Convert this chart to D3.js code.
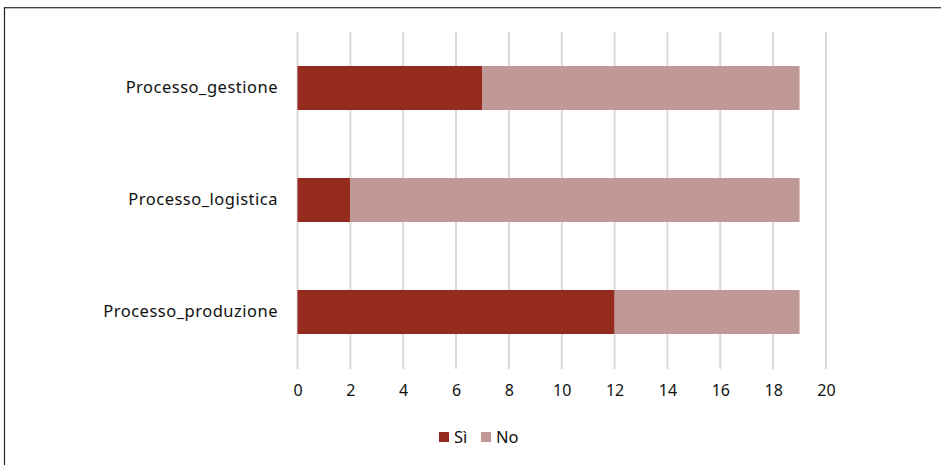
<!DOCTYPE html>
<html><head><meta charset="utf-8">
<script src="https://cdn.jsdelivr.net/npm/d3@7"></script>
<style>body{margin:0;background:#fff;font-family:"Noto Sans",sans-serif;}</style>
</head><body><svg id="c" width="941" height="465"></svg>
<script>
const categories = ["Processo_gestione", "Processo_logistica", "Processo_produzione"];
const si = [7, 2, 12];
const no = [12, 17, 7];
const xTicks = [0, 2, 4, 6, 8, 10, 12, 14, 16, 18, 20];
const seriesNames = ["Sì", "No"];
const colors = ["#952a1f", "#c09896"];

const svg = d3.select("#c");
// frame
svg.append("line").attr("x1", 4.5).attr("x2", 941).attr("y1", 7.5).attr("y2", 7.5).attr("stroke", "#444").attr("stroke-width", 1.2);
svg.append("line").attr("x1", 5).attr("x2", 941).attr("y1", 8.5).attr("y2", 8.5).attr("stroke", "#bbb").attr("stroke-width", 1);
svg.append("line").attr("x1", 4.5).attr("x2", 4.5).attr("y1", 7).attr("y2", 465).attr("stroke", "#222").attr("stroke-width", 1.2);

const x = d3.scaleLinear().domain([0, 20]).range([297.5, 826]);
const y = d3.scaleBand().domain(categories).range([32, 368]).paddingInner(0.607).paddingOuter(0.3035);

// grid
svg.append("g").selectAll("line").data(xTicks).join("line")
  .attr("x1", d => x(d)).attr("x2", d => x(d)).attr("y1", 32).attr("y2", 369)
  .attr("stroke", "#d9d9d9").attr("stroke-width", 2);

const rows = categories.map((c, i) => ({c, vals: [si[i], no[i]]}));
const stack = d3.stack().keys([0, 1])(rows.map(r => r.vals));
stack.forEach((layer, k) => {
  svg.append("g").selectAll("rect").data(layer).join("rect")
    .attr("x", d => x(d[0])).attr("width", d => x(d[1]) - x(d[0]))
    .attr("y", (d, i) => y(categories[i])).attr("height", y.bandwidth())
    .attr("fill", colors[k]);
});

// x axis labels
const xa = svg.append("g").attr("transform", "translate(0,385)")
  .call(d3.axisBottom(x).tickValues(xTicks).tickSize(0).tickPadding(0));
xa.select(".domain").remove();
xa.selectAll("text").attr("font-size", 16).attr("font-family", "Noto Sans").attr("fill", "#111").attr("dy", "0.71em");

// y axis labels
const ya = svg.append("g").attr("transform", "translate(278,0)")
  .call(d3.axisLeft(y).tickSize(0).tickPadding(0));
ya.select(".domain").remove();
ya.selectAll("text").attr("font-size", 16.5).attr("font-family", "Noto Sans").attr("fill", "#111")
  .attr("letter-spacing", "0.5px");

// legend
const leg = svg.append("g");
const lx = [439, 481];
seriesNames.forEach((n, i) => {
  leg.append("rect").attr("x", lx[i]).attr("y", 432).attr("width", 10).attr("height", 10).attr("fill", colors[i]);
  leg.append("text").attr("x", lx[i] + 15).attr("y", 437).attr("dy", "0.35em")
    .attr("font-size", 16.5).attr("fill", "#111").text(n);
});
</script></body></html>
